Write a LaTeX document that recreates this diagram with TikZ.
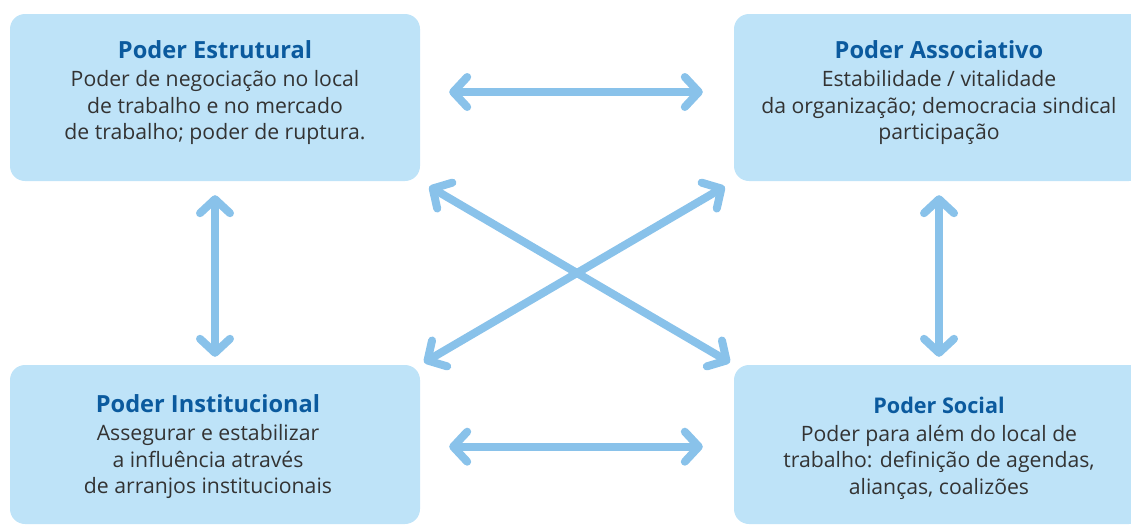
\documentclass[tikz,border=0pt]{standalone}
\usepackage{fontspec}
\setmainfont{Open Sans}
\usetikzlibrary{arrows.meta}
\definecolor{boxfill}{HTML}{BEE3F8}
\definecolor{titleblue}{HTML}{0B5A9E}
\definecolor{bodygray}{HTML}{333333}
\definecolor{arrowblue}{HTML}{89C2EA}
\tikzset{
  box/.style={fill=boxfill, draw=none, rounded corners=15pt, minimum width=410pt, inner sep=0pt},
  txt/.style={align=center, inner sep=0pt, text=bodygray, font=\fontsize{21.2}{26.5}\selectfont},
  ttl/.style={},
  arr/.style={draw=arrowblue, line width=8pt, line cap=round,
    arrows={Straight Barb[length=14pt, width=30pt, round]-Straight Barb[length=14pt, width=30pt, round]}}
}
\newcommand{\ttlbig}[1]{{\fontsize{23.6}{26.5}\selectfont\bfseries\color{titleblue}#1}}
\newcommand{\ttlsmall}[1]{{\fontsize{21.6}{26.5}\selectfont\bfseries\color{titleblue}#1}}
\begin{document}
\begin{tikzpicture}[x=1pt,y=-1pt]
\useasboundingbox (0,0) rectangle (1131,525);
\clip (0,0) rectangle (1131,525);
% boxes
\node[box, minimum height=167pt] (tl) at (215,97.5) {};
\node[box, minimum height=167pt] (tr) at (939,97.5) {};
\node[box, minimum height=159pt] (bl) at (215,444.5) {};
\node[box, minimum height=159pt] (br) at (939,444.5) {};
% texts
\node[txt] (tlt) at (215,93) {\ttlbig{Poder Estrutural}\\[1.5pt]Poder de negociação no local\\de trabalho e no mercado\\de trabalho; poder de ruptura.};
\node[txt] (trt) at (939,93) {\ttlbig{Poder Associativo}\\[1.5pt]Estabilidade / vitalidade\\da organização; democracia sindical\\participação};
\node[txt] (blt) at (208,447) {\ttlbig{Poder Institucional}\\[1.5pt]Assegurar e estabilizar\\a influência através\\de arranjos institucionais};
\node[txt] (brt) at (939,448) {\ttlsmall{Poder Social}\\[1.5pt]Poder para além do local de\\trabalho: definição de agendas,\\alianças, coalizões};
% arrows
\draw[arr, shorten <=29pt, shorten >=31pt] ([yshift=5.5pt]tl.east) -- ([yshift=5.5pt]tr.west);
\draw[arr, shorten <=29pt, shorten >=31pt] ([yshift=-2.2pt]bl.east) -- ([yshift=-2.2pt]br.west);
\draw[arr, shorten <=14pt, shorten >=8pt] (tl.south) -- (bl.north);
\draw[arr, shorten <=14pt, shorten >=8pt] (tr.south) -- (br.north);
\draw[arr, shorten <=10.5pt, shorten >=4.5pt] (tl.south east) -- (br.north west);
\draw[arr, shorten <=10.5pt, shorten >=4.5pt] (tr.south west) -- (bl.north east);
\end{tikzpicture}
\end{document}
